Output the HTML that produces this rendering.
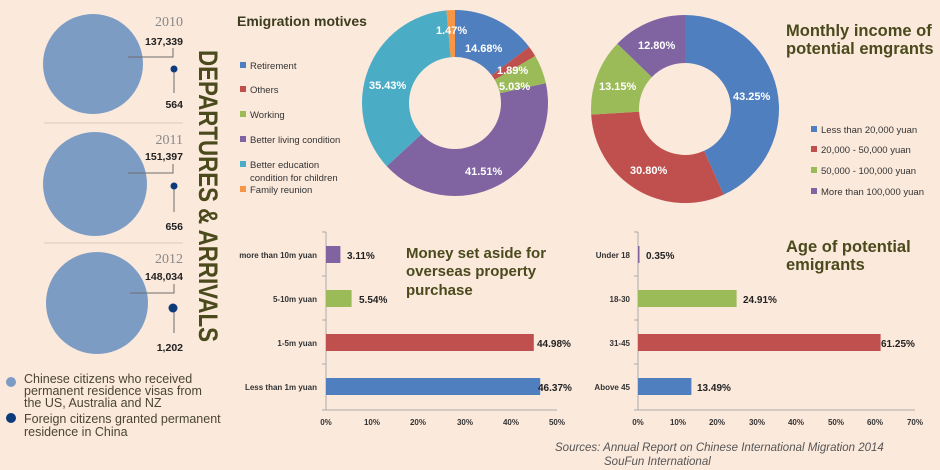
<!DOCTYPE html>
<html><head><meta charset="utf-8"><style>
html,body{margin:0;padding:0;background:#fbe9dc;}
svg{display:block;font-family:"Liberation Sans",sans-serif;}
</style></head><body>
<svg id="s" width="940" height="470" viewBox="0 0 940 470" xmlns="http://www.w3.org/2000/svg">
<rect width="940" height="470" fill="#fbe9dc"/>
<g fill="#7d9cc4">
<circle cx="93" cy="64" r="50"/><circle cx="95" cy="184" r="52"/><circle cx="97" cy="303" r="51"/>
</g>
<g stroke="#d8cbbd" stroke-width="1"><line x1="44" y1="123" x2="183" y2="123"/><line x1="44" y1="243" x2="183" y2="243"/></g>
<g stroke="#6d6d6d" stroke-width="1" fill="none">
<polyline points="128,57 173,57 173,48"/><line x1="174" y1="69" x2="174" y2="93"/>
<polyline points="128,173 173,173 173,164"/><line x1="174" y1="186" x2="174" y2="212"/>
<polyline points="130,293 174,293 174,284"/><line x1="174" y1="308" x2="174" y2="333"/>
</g>
<g fill="#0d3b7a"><circle cx="174" cy="69" r="3.5"/><circle cx="174" cy="186" r="3.5"/><circle cx="173" cy="308" r="4.5"/></g>
<g font-size="14" fill="#888" text-anchor="end" font-family="Liberation Serif,serif">
<text x="183" y="26">2010</text><text x="183" y="144">2011</text><text x="183" y="263">2012</text></g>
<g font-size="10.5" fill="#222" font-weight="bold" text-anchor="end">
<text x="183" y="45">137,339</text><text x="183" y="108">564</text>
<text x="183" y="160">151,397</text><text x="183" y="230">656</text>
<text x="183" y="280">148,034</text><text x="183" y="351">1,202</text></g>
<text transform="translate(199,50) rotate(90)" font-size="27" font-weight="bold" fill="#4a4a1c" textLength="292" lengthAdjust="spacingAndGlyphs">DEPARTURES &amp; ARRIVALS</text>
<circle cx="11" cy="382" r="5" fill="#7d9cc4"/><circle cx="11" cy="418" r="5" fill="#0d3b7a"/>
<g font-size="12.5" fill="#4a4630">
<text x="24" y="383">Chinese citizens who received</text>
<text x="24" y="395">permanent residence visas from</text>
<text x="24" y="407">the US, Australia and NZ</text>
<text x="24" y="423">Foreign citizens granted permanent</text>
<text x="24" y="436">residence in China</text></g>
<text x="237" y="26" font-size="14" font-weight="bold" fill="#3c3c1e">Emigration motives</text>
<g id="d1"></g><g id="d2"></g>
<g font-size="9.5" fill="#333">
<rect x="240" y="62" width="6" height="6" fill="#4f7fbf"/><text x="250" y="69">Retirement</text>
<rect x="240" y="86" width="6" height="6" fill="#c0504d"/><text x="250" y="93">Others</text>
<rect x="240" y="111" width="6" height="6" fill="#9bbb59"/><text x="250" y="118">Working</text>
<rect x="240" y="136" width="6" height="6" fill="#8064a2"/><text x="250" y="143">Better living condition</text>
<rect x="240" y="161" width="6" height="6" fill="#4bacc6"/><text x="250" y="168">Better education</text><text x="250" y="181">condition for children</text>
<rect x="240" y="186" width="6" height="6" fill="#f79646"/><text x="250" y="193">Family reunion</text>
</g>
<g font-size="11" font-weight="bold" fill="#fff">
<text x="436" y="34">1.47%</text><text x="465" y="52">14.68%</text><text x="497" y="74">1.89%</text>
<text x="499" y="90">5.03%</text><text x="465" y="175">41.51%</text><text x="369" y="89">35.43%</text>
<text x="733" y="100">43.25%</text><text x="630" y="174">30.80%</text><text x="599" y="90">13.15%</text><text x="638" y="49">12.80%</text>
</g>
<g font-size="16.5" font-weight="bold" fill="#4a4a1c"><text x="786" y="36">Monthly income of</text><text x="786" y="54">potential emgrants</text></g>
<g font-size="9.5" fill="#333">
<rect x="811" y="126" width="6" height="6" fill="#4f7fbf"/><text x="821" y="133">Less than 20,000 yuan</text>
<rect x="811" y="146" width="6" height="6" fill="#c0504d"/><text x="821" y="153">20,000 - 50,000 yuan</text>
<rect x="811" y="167" width="6" height="6" fill="#9bbb59"/><text x="821" y="174">50,000 - 100,000 yuan</text>
<rect x="811" y="188" width="6" height="6" fill="#8064a2"/><text x="821" y="195">More than 100,000 yuan</text>
</g>
<g stroke="#aaa" stroke-width="1">
<line x1="326" y1="232" x2="326" y2="410"/><line x1="326" y1="410" x2="557" y2="410"/>
<line x1="322" y1="232" x2="326" y2="232"/><line x1="322" y1="276" x2="326" y2="276"/><line x1="322" y1="320" x2="326" y2="320"/><line x1="322" y1="364" x2="326" y2="364"/><line x1="322" y1="410" x2="326" y2="410"/>
<line x1="638" y1="232" x2="638" y2="410"/><line x1="638" y1="410" x2="915" y2="410"/>
<line x1="634" y1="232" x2="638" y2="232"/><line x1="634" y1="276" x2="638" y2="276"/><line x1="634" y1="320" x2="638" y2="320"/><line x1="634" y1="364" x2="638" y2="364"/><line x1="634" y1="410" x2="638" y2="410"/>
</g>
<rect x="326" y="246" width="14.4" height="17" fill="#8064a2"/>
<rect x="326" y="290" width="25.6" height="17" fill="#9bbb59"/>
<rect x="326" y="334" width="207.8" height="17" fill="#c0504d"/>
<rect x="326" y="378" width="214.2" height="17" fill="#4f7fbf"/>
<g font-size="8" font-weight="bold" fill="#333" text-anchor="end">
<text x="317" y="258">more than 10m yuan</text><text x="317" y="302">5-10m yuan</text><text x="317" y="346">1-5m yuan</text><text x="317" y="390">Less than 1m yuan</text>
<text x="630" y="258">Under 18</text><text x="630" y="302">18-30</text><text x="630" y="346">31-45</text><text x="630" y="390">Above 45</text>
</g>
<g font-size="10" font-weight="bold" fill="#222">
<text x="347" y="259">3.11%</text><text x="359" y="303">5.54%</text><text x="537" y="347">44.98%</text><text x="538" y="391">46.37%</text>
<text x="646" y="259">0.35%</text><text x="743" y="303">24.91%</text><text x="881" y="347">61.25%</text><text x="697" y="391">13.49%</text>
</g>
<g font-size="8" font-weight="bold" fill="#333" text-anchor="middle">
<text x="326" y="425">0%</text><text x="372" y="425">10%</text><text x="418" y="425">20%</text><text x="465" y="425">30%</text><text x="511" y="425">40%</text><text x="557" y="425">50%</text>
<text x="638" y="425">0%</text><text x="678" y="425">10%</text><text x="717" y="425">20%</text><text x="757" y="425">30%</text><text x="796" y="425">40%</text><text x="836" y="425">50%</text><text x="875" y="425">60%</text><text x="915" y="425">70%</text>
</g>
<rect x="638" y="246" width="1.5" height="17" fill="#8064a2"/>
<rect x="638" y="290" width="98.6" height="17" fill="#9bbb59"/>
<rect x="638" y="334" width="242.6" height="17" fill="#c0504d"/>
<rect x="638" y="378" width="53.4" height="17" fill="#4f7fbf"/>
<g font-size="15" font-weight="bold" fill="#4a4a1c">
<text x="406" y="258">Money set aside for</text><text x="406" y="276">overseas property</text><text x="406" y="295">purchase</text>
<text x="786" y="252" font-size="16.5">Age of  potential</text><text x="786" y="270" font-size="16.5">emigrants</text></g>
<g font-size="11.5" font-style="italic" fill="#555">
<text x="555" y="451">Sources: Annual Report on Chinese International Migration 2014</text>
<text x="604" y="465">SouFun International</text></g>
</svg>
<script>
function donut(id,cx,cy,R,r,vals,cols){
 var g=document.getElementById(id),a=0,tot=vals.reduce((x,y)=>x+y,0),h='';
 for(var i=0;i<vals.length;i++){
  var a0=a/tot*2*Math.PI,a1=(a+vals[i])/tot*2*Math.PI;a+=vals[i];
  var p=(t,rr)=>(cx+rr*Math.sin(t)).toFixed(2)+','+(cy-rr*Math.cos(t)).toFixed(2);
  var lg=(a1-a0)>Math.PI?1:0;
  h+='<path d="M'+p(a0,R)+'A'+R+','+R+' 0 '+lg+' 1 '+p(a1,R)+'L'+p(a1,r)+'A'+r+','+r+' 0 '+lg+' 0 '+p(a0,r)+'Z" fill="'+cols[i]+'"/>';
 }
 g.innerHTML=h;
}
donut('d1',455,103,93,46,[14.68,1.89,5.03,41.51,35.43,1.47],['#4f7fbf','#c0504d','#9bbb59','#8064a2','#4bacc6','#f79646']);
donut('d2',685,109,94,46,[43.25,30.80,13.15,12.80],['#4f7fbf','#c0504d','#9bbb59','#8064a2']);
</script>
</body></html>
